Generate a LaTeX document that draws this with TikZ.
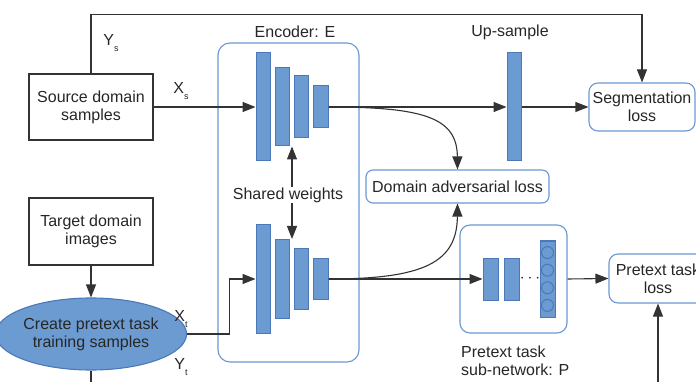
\documentclass[tikz,border=0pt]{standalone}
\usepackage{fontspec}
\setmainfont{Liberation Sans}
\usetikzlibrary{arrows.meta,shapes.geometric,calc}
\definecolor{barfill}{HTML}{6C9BD2}
\definecolor{barline}{HTML}{4A78B8}
\definecolor{boxline}{HTML}{6A96D2}
\definecolor{ink}{HTML}{333333}
\newcommand{\lowsub}[1]{\raisebox{-6pt}{\fontsize{9}{9}\selectfont #1}}
\begin{document}
\begin{tikzpicture}[x=1pt,y=-1pt,
  font=\fontsize{16}{18}\selectfont,
  every node/.style={text=black!85},
  bar/.style={draw=barline, fill=barfill, line width=1pt, inner sep=0pt, minimum width=14pt},
  plainbox/.style={draw=ink, line width=1.1pt, align=center, inner sep=0pt},
  roundbox/.style={draw=boxline, line width=1.1pt, rounded corners=9pt, align=center, inner sep=0pt},
  conn/.style={draw=ink, line width=1.1pt},
  arr/.style={conn, -{Triangle[length=13pt,width=10pt]}},
  lbl/.style={inner sep=0pt}]
\useasboundingbox (0,0) rectangle (696,382);

% encoder frame and its title
\node[roundbox, rounded corners=12pt, minimum width=141pt, minimum height=319pt] (enc) at (288.5,202.5) {};
\node[lbl] (enctitle) at (295,32) {Encoder: E};

% source branch of the encoder
\node[bar, minimum height=108pt] (e1) at (263,107) {};
\node[bar, minimum height=78pt]  (e2) at (282,107) {};
\node[bar, minimum height=62pt]  (e3) at (301,107) {};
\node[bar, minimum height=42pt, minimum width=15pt] (e4) at (320.5,107) {};

% target branch of the encoder
\node[bar, minimum height=108pt] (f1) at (263,279) {};
\node[bar, minimum height=79pt]  (f2) at (282,279) {};
\node[bar, minimum height=61pt]  (f3) at (301,279) {};
\node[bar, minimum height=41pt, minimum width=15pt] (f4) at (320.5,279) {};

\node[lbl] (sw) at (288,195) {Shared weights};

% up-sampling layer
\node[bar, minimum height=108pt] (up) at (514,107) {};
\node[lbl] (uptitle) at (510,32) {Up-sample};

% input boxes
\node[plainbox, minimum width=124pt, minimum height=66pt] (src) at (91,107) {Source domain\\samples};
\node[plainbox, minimum width=124pt, minimum height=67pt] (tgt) at (91,231.5) {Target domain\\images};
\node[ellipse, draw=barline, fill=barfill, line width=1.1pt, minimum width=158pt, minimum height=72pt, inner sep=0pt, align=center] (ell) at (91,334) {Create pretext task\\training samples};

% losses
\node[roundbox, minimum width=106pt, minimum height=48pt] (seg) at (642,107) {Segmentation\\loss};
\node[roundbox, rounded corners=7pt, minimum width=183pt, minimum height=33pt] (dal) at (457.5,186.5) {Domain adversarial loss};
\node[roundbox, minimum width=98pt, minimum height=49pt] (ptl) at (658,278.5) {Pretext task\\loss};

% pretext task sub-network
\node[roundbox, rounded corners=10pt, minimum width=107pt, minimum height=108pt] (psub) at (513.5,279) {};
\node[bar, minimum height=42pt, minimum width=15pt] (p1) at (490.5,279) {};
\node[bar, minimum height=42pt, minimum width=15pt] (p2) at (511.5,279) {};
\node[lbl] (pdots) at (530,279) {$\cdots$};
\node[bar, minimum height=76pt, minimum width=15pt] (pc) at (547.5,279) {};
\foreach \cy [count=\k] in {252.6,270.2,287.8,305.4}
  \node[circle, draw=barline, fill=barfill, line width=1pt, minimum size=12pt, inner sep=0pt] (pcirc\k) at (547.5,\cy) {};
\node[lbl, align=left, anchor=west] (psubtitle) at (461,361) {Pretext task\\sub-network: P};

% stream labels
\node[lbl] (ys) at (111,43) {Y\lowsub{s}};
\node[lbl] (xs) at (181,91) {X\lowsub{s}};
\node[lbl] (xt) at (181,319) {X\lowsub{t}};
\node[lbl] (yt) at (181,367) {Y\lowsub{t}};

\coordinate (ellout) at (91,395);
\coordinate (ptlin) at (658,395);

% connectors
\draw[arr] (src.north) -- ++(0,-59) -| (seg.north);
\draw[arr] (src.east) -- (e1.west);
\draw[arr] (e4.east) -- (up.west);
\draw[arr] (up.east) -- (seg.west);
\draw[arr] (e4.east) .. controls (425,107) and (457,118) .. (dal.north);
\draw[arr] ([xshift=4pt]sw.north) -- ([xshift=4pt]sw.north |- e2.south);
\draw[arr] ([xshift=4pt]sw.south) -- ([xshift=4pt]sw.south |- f2.north);
\draw[arr] (tgt.south) -- (ell.north);
\draw[arr] (ell.east) -- ++(42,0) |- (f1.west);
\draw[conn] (ell.south) -- (ellout);
\draw[arr] (f4.east) -- (p1.west);
\draw[arr] (f4.east) .. controls (425,279) and (457,262) .. (dal.south);
\draw[arr] (psub.east) -- (ptl.west);
\draw[arr] (ptlin) -- (ptl.south);
\end{tikzpicture}
\end{document}
